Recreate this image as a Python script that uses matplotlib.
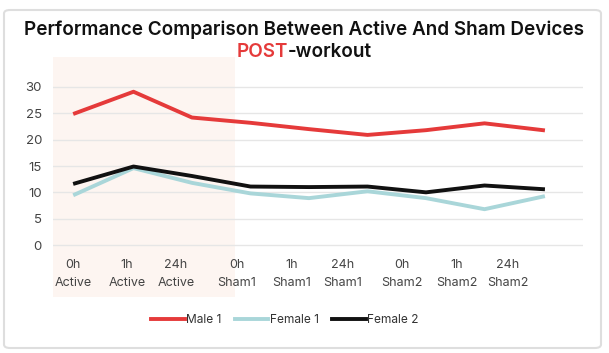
import numpy as np
import matplotlib
matplotlib.use("Agg")
import matplotlib.pyplot as plt
from matplotlib.patches import FancyBboxPatch

plt.rcParams['font.family'] = ['Inter', 'DejaVu Sans']

# data
times = ["0h", "1h", "24h", "0h", "1h", "24h", "0h", "1h", "24h"]
devices = ["Active", "Active", "Active", "Sham1", "Sham1", "Sham1", "Sham2", "Sham2", "Sham2"]
male1 = [25.0, 29.1, 24.2, 23.2, 22.0, 20.9, 21.8, 23.1, 21.8]
female1 = [9.6, 14.6, 11.8, 9.8, 8.9, 10.2, 8.9, 6.8, 9.2]
female2 = [11.7, 14.9, 13.1, 11.1, 11.0, 11.1, 10.0, 11.3, 10.6]

W, H = 609, 353
fig = plt.figure(figsize=(W / 100, H / 100), dpi=100)

# outer frame
fig.patches.append(FancyBboxPatch((4 / W, 5 / H), 597 / W, 338 / H,
                                  boxstyle="round,pad=0,rounding_size=0.01",
                                  transform=fig.transFigure, fill=False,
                                  edgecolor="#dedede", lw=1.5))

ax = fig.add_axes([53 / W, 56 / H, 530 / W, 240 / H])
x = np.arange(len(times))
px = 58.5  # pixels per category
ax.set_xlim(-22 / px, 508 / px)
ax.set_ylim(-52 / 5.27, 30 + 30 / 5.27)

# shaded "Active" block
ax.axvspan(-22 / px, 160 / px, color="#fdf5f1", zorder=0, lw=0)

for yv in range(0, 31, 5):
    ax.axhline(yv, color="#e6e6e6", lw=1, zorder=1)

ax.plot(x, male1, color="#e53a3a", lw=2.8, label="Male 1", zorder=3)
ax.plot(x, female1, color="#a9d6d9", lw=2.8, label="Female 1", zorder=3)
ax.plot(x, female2, color="#111111", lw=2.8, label="Female 2", zorder=4)

ax.set_yticks(range(0, 31, 5))
ax.tick_params(axis='y', length=0, pad=8, labelsize=9.5, labelcolor="#444444")
ax.set_xticks([])
for s in ax.spines.values():
    s.set_visible(False)

# category labels sit a little off the points in the original
lab_px = [73, 127, 176, 237, 292, 343, 402, 457, 508]
for lp, t, d in zip(lab_px, times, devices):
    lx = (lp - 75) / px
    ax.text(lx, -3.8, t, ha="center", va="center", fontsize=9, color="#444444")
    ax.text(lx, -7.3, d, ha="center", va="center", fontsize=9, color="#444444")

fig.text(0.5, 1 - 30 / H, "Performance Comparison Between Active And Sham Devices",
         ha="center", va="center", fontsize=13.6, fontweight="semibold", color="#111111")

# two-colour subtitle: measure the whole string, then place the pieces
r = fig.canvas.get_renderer()
full = fig.text(0.5, 1 - 52 / H, "POST-workout", ha="center", va="center",
                fontsize=13.6, fontweight="semibold")
bb = full.get_window_extent(r)
full.remove()
p = fig.text(bb.x0 / W, 1 - 52 / H, "POST", ha="left", va="center", fontsize=13.6,
             fontweight="semibold", color="#e53a3a")
pb = p.get_window_extent(r)
fig.text(pb.x1 / W, 1 - 52 / H, "-workout", ha="left", va="center", fontsize=13.6,
         fontweight="semibold", color="#111111")

fig.legend(loc="center", bbox_to_anchor=(285 / W, 1 - 320 / H), ncol=3, frameon=False,
           fontsize=8.6, handlelength=2.8, handletextpad=0.15, columnspacing=1.1,
           labelcolor="#333333")

fig.savefig("out.png", dpi=100)
